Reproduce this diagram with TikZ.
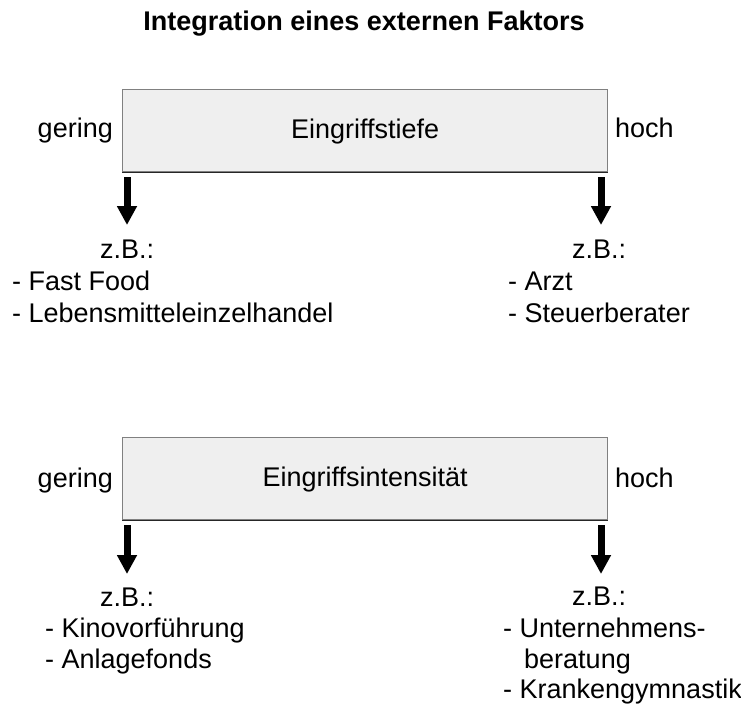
\documentclass[tikz,border=0pt]{standalone}
\usepackage{fontspec}
\setmainfont{Liberation Sans}
\usetikzlibrary{arrows.meta}
\definecolor{boxfill}{HTML}{EFEFEF}
\definecolor{boxline}{HTML}{808080}
\tikzset{
  txt/.style={inner sep=0pt, font=\fontsize{27bp}{32bp}\selectfont},
  item/.style={txt, anchor=base west},
  scalebox/.style={draw=boxline, fill=boxfill, line width=1.2bp, minimum width=485bp, minimum height=82bp, inner sep=0pt, text height=21bp, text depth=5bp, anchor=north west, font=\fontsize{27bp}{32bp}\selectfont},
  downarrow/.style={line width=7bp, -{Triangle[length=19bp, width=19bp]}},
}
\begin{document}
\begin{tikzpicture}[x=1bp, y=-1bp]
\useasboundingbox (0,0) rectangle (741,704);

% title
\node[txt, font=\fontsize{27bp}{32bp}\selectfont\bfseries, anchor=base] (title) at (364,31) {Integration eines externen Faktors};

% first scale: Eingriffstiefe
\node[scalebox] (box1) at (122,89) {Eingriffstiefe};
\draw[line width=1.2bp, black!85] (box1.south west) -- (box1.south east);
\node[txt, anchor=base east] (lo1) at (113,138) {gering};
\node[txt, anchor=base west] (hi1) at (615,138) {hoch};
\coordinate (a1s) at (127,177);
\coordinate (a1e) at (127,225);
\coordinate (b1s) at (601,177);
\coordinate (b1e) at (601,225);
\draw[downarrow] (a1s) -- (a1e);
\draw[downarrow] (b1s) -- (b1e);

\node[item] (zb1) at (100,258) {z.B.:};
\node[item] (ff) at (12,290) {- Fast Food};
\node[item] (leh) at (12,322) {- Lebensmitteleinzelhandel};
\node[item] (zb2) at (572,258) {z.B.:};
\node[item] (arzt) at (508,290) {- Arzt};
\node[item] (stb) at (508,322) {- Steuerberater};

% second scale: Eingriffsintensitaet
\node[scalebox] (box2) at (122,437) {Eingriffsintensität};
\draw[line width=1.2bp, black!85] (box2.south west) -- (box2.south east);
\node[txt, anchor=base east] (lo2) at (113,487) {gering};
\node[txt, anchor=base west] (hi2) at (615,487) {hoch};
\coordinate (a2s) at (127,525);
\coordinate (a2e) at (127,574);
\coordinate (b2s) at (601,525);
\coordinate (b2e) at (601,574);
\draw[downarrow] (a2s) -- (a2e);
\draw[downarrow] (b2s) -- (b2e);

\node[item] (zb3) at (100,606) {z.B.:};
\node[item] (kino) at (45,637) {- Kinovorführung};
\node[item] (fonds) at (45,668) {- Anlagefonds};
\node[item] (zb4) at (572,605) {z.B.:};
\node[item] (ub1) at (503,637) {- Unternehmens-};
\node[item] (ub2) at (524,668) {beratung};
\node[item] (kg) at (503,698) {- Krankengymnastik};
\end{tikzpicture}
\end{document}
